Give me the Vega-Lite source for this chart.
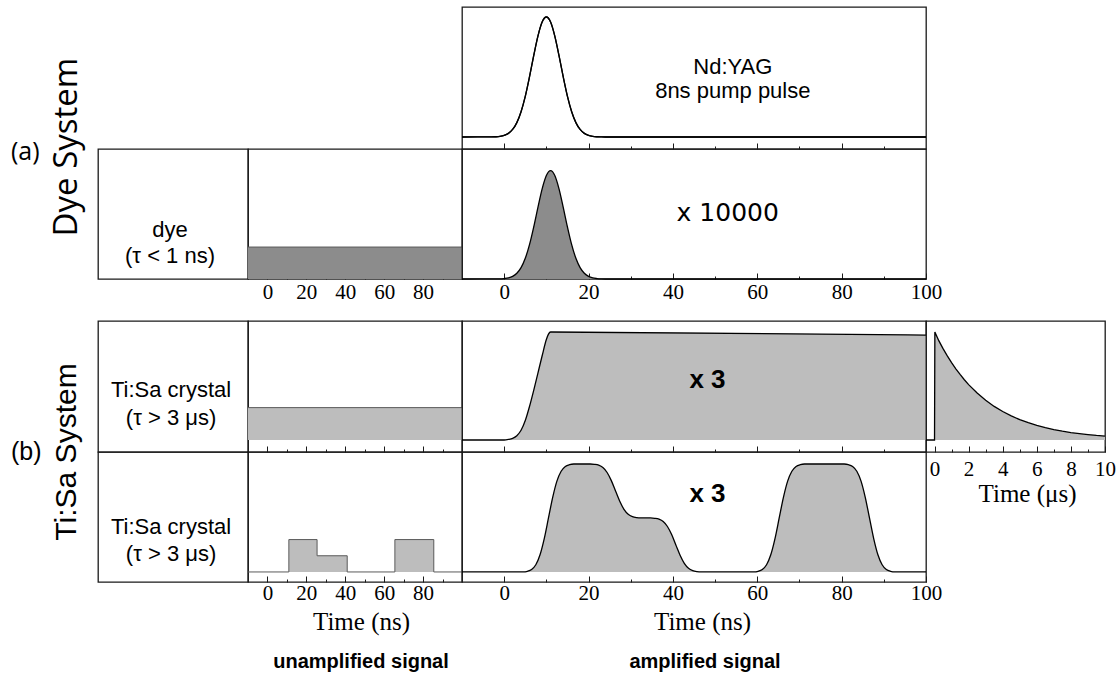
{
  "$schema": "https://vega.github.io/schema/vega-lite/v6.json",
  "background": "white",
  "padding": {"left": 10, "top": 6, "right": 5, "bottom": 4},
  "columns": 4,
  "spacing": 0,
  "bounds": "flush",
  "align": "each",
  "datasets": {
    "ndyag": [
      {"t": -10, "v": 0}, {"t": -3, "v": 0.0007}, {"t": -2, "v": 0.002}, {"t": -1, "v": 0.0053},
      {"t": 0, "v": 0.0132}, {"t": 1, "v": 0.0301}, {"t": 2, "v": 0.0628}, {"t": 3, "v": 0.12},
      {"t": 4, "v": 0.211}, {"t": 5, "v": 0.339}, {"t": 6, "v": 0.501}, {"t": 7, "v": 0.678},
      {"t": 8, "v": 0.841}, {"t": 9, "v": 0.958}, {"t": 10, "v": 1}, {"t": 11, "v": 0.958},
      {"t": 12, "v": 0.841}, {"t": 13, "v": 0.678}, {"t": 14, "v": 0.501}, {"t": 15, "v": 0.339},
      {"t": 16, "v": 0.211}, {"t": 17, "v": 0.12}, {"t": 18, "v": 0.0628}, {"t": 19, "v": 0.0301},
      {"t": 20, "v": 0.0132}, {"t": 21, "v": 0.0053}, {"t": 22, "v": 0.002}, {"t": 23, "v": 0.0007},
      {"t": 24, "v": 0}, {"t": 100, "v": 0}
    ],
    "dyeAmp": [
      {"t": -10, "v": 0}, {"t": -1, "v": 0.001}, {"t": 0, "v": 0.004}, {"t": 1, "v": 0.01},
      {"t": 2, "v": 0.024}, {"t": 3, "v": 0.053}, {"t": 4, "v": 0.105}, {"t": 5, "v": 0.191},
      {"t": 6, "v": 0.317}, {"t": 7, "v": 0.48}, {"t": 8, "v": 0.661}, {"t": 9, "v": 0.832},
      {"t": 10, "v": 0.955}, {"t": 11, "v": 1}, {"t": 12, "v": 0.955}, {"t": 13, "v": 0.832},
      {"t": 14, "v": 0.661}, {"t": 15, "v": 0.48}, {"t": 16, "v": 0.317}, {"t": 17, "v": 0.191},
      {"t": 18, "v": 0.105}, {"t": 19, "v": 0.053}, {"t": 20, "v": 0.024}, {"t": 21, "v": 0.01},
      {"t": 22, "v": 0.004}, {"t": 23, "v": 0.001}, {"t": 24, "v": 0}, {"t": 100, "v": 0}
    ],
    "dyeUnamp": [{"t": -10, "v": 0.295}, {"t": 100, "v": 0.295}],
    "tisaUnamp": [{"t": -10, "v": 0.3}, {"t": 100, "v": 0.3}],
    "tisaAmp": [
      {"t": -10, "v": 0}, {"t": 0, "v": 0}, {"t": 1, "v": 0.005}, {"t": 2, "v": 0.015},
      {"t": 3, "v": 0.04}, {"t": 4, "v": 0.09}, {"t": 5, "v": 0.18}, {"t": 6, "v": 0.31},
      {"t": 7, "v": 0.46}, {"t": 8, "v": 0.62}, {"t": 9, "v": 0.78}, {"t": 10, "v": 0.93},
      {"t": 10.5, "v": 0.98}, {"t": 11, "v": 1}, {"t": 100, "v": 0.972}
    ],
    "tisaDecay": [
      {"t": -0.5, "v": 0}, {"t": 0, "v": 0}, {"t": 0.02, "v": 1}, {"t": 0.25, "v": 0.92},
      {"t": 0.5, "v": 0.846}, {"t": 0.75, "v": 0.779}, {"t": 1, "v": 0.717}, {"t": 1.25, "v": 0.659},
      {"t": 1.5, "v": 0.607}, {"t": 1.75, "v": 0.558}, {"t": 2, "v": 0.513}, {"t": 2.5, "v": 0.435},
      {"t": 3, "v": 0.368}, {"t": 3.5, "v": 0.311}, {"t": 4, "v": 0.264}, {"t": 4.5, "v": 0.223},
      {"t": 5, "v": 0.189}, {"t": 5.5, "v": 0.16}, {"t": 6, "v": 0.135}, {"t": 6.5, "v": 0.115},
      {"t": 7, "v": 0.097}, {"t": 7.5, "v": 0.082}, {"t": 8, "v": 0.069}, {"t": 8.5, "v": 0.059},
      {"t": 9, "v": 0.05}, {"t": 9.5, "v": 0.042}, {"t": 10, "v": 0.036}
    ],
    "pulseUnamp": [
      {"t": -10, "v": 0}, {"t": 11, "v": 0.3}, {"t": 25.5, "v": 0.15}, {"t": 41, "v": 0},
      {"t": 65.5, "v": 0.3}, {"t": 85.5, "v": 0}, {"t": 100, "v": 0}
    ],
    "pulseAmp": [
      {"t": -10, "v": 0}, {"t": 4.5, "v": 0}, {"t": 5.5, "v": 0.006}, {"t": 6.5, "v": 0.023},
      {"t": 7.5, "v": 0.067}, {"t": 8.5, "v": 0.159}, {"t": 9.5, "v": 0.309}, {"t": 10.5, "v": 0.5},
      {"t": 11.5, "v": 0.691}, {"t": 12.5, "v": 0.841}, {"t": 13.5, "v": 0.933}, {"t": 14.5, "v": 0.977},
      {"t": 15.5, "v": 0.994}, {"t": 16.5, "v": 1}, {"t": 20.4, "v": 1}, {"t": 21.4, "v": 0.997},
      {"t": 22.4, "v": 0.989}, {"t": 23.4, "v": 0.967}, {"t": 24.4, "v": 0.921}, {"t": 25.4, "v": 0.846},
      {"t": 26.4, "v": 0.75}, {"t": 27.4, "v": 0.655}, {"t": 28.4, "v": 0.58}, {"t": 29.4, "v": 0.534},
      {"t": 30.4, "v": 0.512}, {"t": 31.4, "v": 0.503}, {"t": 32.4, "v": 0.5}, {"t": 34.7, "v": 0.5},
      {"t": 35.7, "v": 0.497}, {"t": 36.7, "v": 0.489}, {"t": 37.7, "v": 0.467}, {"t": 38.7, "v": 0.421},
      {"t": 39.7, "v": 0.346}, {"t": 40.7, "v": 0.25}, {"t": 41.7, "v": 0.155}, {"t": 42.7, "v": 0.08},
      {"t": 43.7, "v": 0.034}, {"t": 44.7, "v": 0.012}, {"t": 45.7, "v": 0.003}, {"t": 46.7, "v": 0},
      {"t": 59.2, "v": 0}, {"t": 60.2, "v": 0.006}, {"t": 61.2, "v": 0.023}, {"t": 62.2, "v": 0.067},
      {"t": 63.2, "v": 0.159}, {"t": 64.2, "v": 0.309}, {"t": 65.2, "v": 0.5}, {"t": 66.2, "v": 0.691},
      {"t": 67.2, "v": 0.841}, {"t": 68.2, "v": 0.933}, {"t": 69.2, "v": 0.977}, {"t": 70.2, "v": 0.994},
      {"t": 71.2, "v": 1}, {"t": 80.6, "v": 1}, {"t": 81.6, "v": 0.994}, {"t": 82.6, "v": 0.977},
      {"t": 83.6, "v": 0.933}, {"t": 84.6, "v": 0.841}, {"t": 85.6, "v": 0.691}, {"t": 86.6, "v": 0.5},
      {"t": 87.6, "v": 0.309}, {"t": 88.6, "v": 0.159}, {"t": 89.6, "v": 0.067}, {"t": 90.6, "v": 0.023},
      {"t": 91.6, "v": 0.006}, {"t": 92.6, "v": 0}, {"t": 100, "v": 0}
    ]
  },
  "concat": [
    {"width": 1, "height": 1, "view": {"stroke": null}, "data": {"values": []}, "mark": "point"},
    {"width": 1, "height": 1, "view": {"stroke": null}, "data": {"values": []}, "mark": "point"},
    {
      "width": 464, "height": 142,
      "data": {"name": "ndyag"},
      "resolve": {"axis": {"x": "independent"}},
      "layer": [
        {
          "mark": {"type": "line", "color": "#000", "strokeWidth": 1.3, "interpolate": "monotone"},
          "encoding": {
            "x": {"field": "t", "type": "quantitative", "scale": {"domain": [-10, 100], "nice": false, "zero": false},
              "axis": {"orient": "bottom", "values": [0, 20, 40, 60, 80], "labels": false, "title": null, "tickSize": -6}},
            "y": {"field": "v", "type": "quantitative", "scale": {"domain": [-0.1, 1.0833], "nice": false, "zero": false}, "axis": null}
          }
        },
        {
          "mark": {"type": "line", "color": "#000", "strokeWidth": 1.3, "interpolate": "monotone"},
          "encoding": {
            "x": {"field": "t", "type": "quantitative",
              "axis": {"orient": "bottom", "values": [10, 30, 50, 70, 90], "labels": false, "title": null, "tickSize": -3}},
            "y": {"field": "v", "type": "quantitative"}
          }
        },
        {
          "data": {"values": [{"label": "Nd:YAG\n8ns pump pulse"}]},
          "mark": {"type": "text", "fontSize": 22, "lineBreak": "\n", "lineHeight": 24, "baseline": "middle"},
          "encoding": {"text": {"field": "label"}, "x": {"datum": 54.2, "axis": null}, "y": {"datum": 0.586}}
        }
      ]
    },
    {"width": 1, "height": 1, "view": {"stroke": null}, "data": {"values": []}, "mark": "point"},

    {
      "width": 150, "height": 130,
      "layer": [
        {
          "data": {"values": [{"label": "dye\n(τ < 1 ns)"}]},
          "mark": {"type": "text", "fontSize": 22, "lineBreak": "\n", "lineHeight": 26, "baseline": "middle"},
          "encoding": {
            "text": {"field": "label"},
            "x": {"datum": 0.48, "type": "quantitative", "scale": {"domain": [0, 1]}, "axis": null},
            "y": {"datum": 0.375, "type": "quantitative", "scale": {"domain": [0, 1]}, "axis": null}
          }
        },
        {
          "data": {"values": [{"label": "Dye System"}]},
          "mark": {"type": "text", "font": "Open Sans", "fontSize": 33, "angle": 270, "baseline": "middle"},
          "encoding": {"text": {"field": "label"}, "x": {"datum": -0.207}, "y": {"datum": 1.015}}
        },
        {
          "data": {"values": [{"label": "(a)"}]},
          "mark": {"type": "text", "font": "Open Sans", "fontSize": 25, "align": "left", "baseline": "middle"},
          "encoding": {"text": {"field": "label"}, "x": {"datum": -0.58}, "y": {"datum": 0.977}}
        }
      ]
    },
    {
      "width": 214, "height": 130,
      "data": {"name": "dyeUnamp"},
      "resolve": {"axis": {"x": "independent"}},
      "layer": [
        {
          "mark": {"type": "area", "color": "#8c8c8c"},
          "encoding": {
            "x": {"field": "t", "type": "quantitative", "scale": {"domain": [-10, 100], "nice": false, "zero": false},
              "axis": {"orient": "bottom", "values": [0, 20, 40, 60, 80], "title": null, "tickSize": -6, "labelPadding": 8}},
            "y": {"field": "v", "type": "quantitative", "scale": {"domain": [0, 1.2], "nice": false, "zero": false}, "axis": null},
            "y2": {"datum": 0}
          }
        },
        {
          "mark": {"type": "line", "color": "#5a5a5a", "strokeWidth": 1},
          "encoding": {
            "x": {"field": "t", "type": "quantitative",
              "axis": {"orient": "bottom", "values": [10, 30, 50, 70, 90], "labels": false, "title": null, "tickSize": -3}},
            "y": {"field": "v", "type": "quantitative"}
          }
        }
      ]
    },
    {
      "width": 464, "height": 130,
      "data": {"name": "dyeAmp"},
      "resolve": {"axis": {"x": "independent"}},
      "layer": [
        {
          "mark": {"type": "area", "color": "#8c8c8c", "interpolate": "monotone"},
          "encoding": {
            "x": {"field": "t", "type": "quantitative", "scale": {"domain": [-10, 100], "nice": false, "zero": false},
              "axis": {"orient": "bottom", "values": [0, 20, 40, 60, 80, 100], "title": null, "tickSize": -6, "labelPadding": 8}},
            "y": {"field": "v", "type": "quantitative", "scale": {"domain": [0, 1.2], "nice": false, "zero": false}, "axis": null},
            "y2": {"datum": 0}
          }
        },
        {
          "mark": {"type": "line", "color": "#000", "strokeWidth": 1.3, "interpolate": "monotone"},
          "encoding": {
            "x": {"field": "t", "type": "quantitative",
              "axis": {"orient": "bottom", "values": [10, 30, 50, 70, 90], "labels": false, "title": null, "tickSize": -3}},
            "y": {"field": "v", "type": "quantitative"}
          }
        },
        {
          "data": {"values": [{"label": "x 10000"}]},
          "mark": {"type": "text", "font": "DejaVu Sans", "fontSize": 25, "baseline": "middle"},
          "encoding": {"text": {"field": "label"}, "x": {"datum": 53, "axis": null}, "y": {"datum": 0.606}}
        }
      ]
    },
    {"width": 1, "height": 1, "view": {"stroke": null}, "data": {"values": []}, "mark": "point"},

    {"width": 1, "height": 42, "view": {"stroke": null}, "data": {"values": []}, "mark": "point"},
    {"width": 1, "height": 42, "view": {"stroke": null}, "data": {"values": []}, "mark": "point"},
    {"width": 1, "height": 42, "view": {"stroke": null}, "data": {"values": []}, "mark": "point"},
    {"width": 1, "height": 42, "view": {"stroke": null}, "data": {"values": []}, "mark": "point"},

    {
      "width": 150, "height": 131,
      "layer": [
        {
          "data": {"values": [{"label": "Ti:Sa crystal\n(τ > 3 μs)"}]},
          "mark": {"type": "text", "fontSize": 22, "lineBreak": "\n", "lineHeight": 28, "baseline": "middle"},
          "encoding": {
            "text": {"field": "label"},
            "x": {"datum": 0.487, "type": "quantitative", "scale": {"domain": [0, 1]}, "axis": null},
            "y": {"datum": 0.471, "type": "quantitative", "scale": {"domain": [0, 1]}, "axis": null}
          }
        },
        {
          "data": {"values": [{"label": "Ti:Sa System"}]},
          "mark": {"type": "text", "fontSize": 30, "angle": 270, "baseline": "middle"},
          "encoding": {"text": {"field": "label"}, "x": {"datum": -0.207}, "y": {"datum": 0}}
        },
        {
          "data": {"values": [{"label": "(b)"}]},
          "mark": {"type": "text", "fontSize": 25, "align": "left", "baseline": "middle"},
          "encoding": {"text": {"field": "label"}, "x": {"datum": -0.58}, "y": {"datum": 0}}
        }
      ]
    },
    {
      "width": 214, "height": 131,
      "data": {"name": "tisaUnamp"},
      "resolve": {"axis": {"x": "independent"}},
      "layer": [
        {
          "mark": {"type": "area", "color": "#bdbdbd"},
          "encoding": {
            "x": {"field": "t", "type": "quantitative", "scale": {"domain": [-10, 100], "nice": false, "zero": false},
              "axis": {"orient": "bottom", "values": [0, 20, 40, 60, 80], "labels": false, "title": null, "tickSize": -6}},
            "y": {"field": "v", "type": "quantitative", "scale": {"domain": [-0.111, 1.102], "nice": false, "zero": false}, "axis": null},
            "y2": {"datum": 0}
          }
        },
        {
          "mark": {"type": "line", "color": "#5a5a5a", "strokeWidth": 1},
          "encoding": {
            "x": {"field": "t", "type": "quantitative",
              "axis": {"orient": "bottom", "values": [10, 30, 50, 70, 90], "labels": false, "title": null, "tickSize": -3}},
            "y": {"field": "v", "type": "quantitative"}
          }
        }
      ]
    },
    {
      "width": 464, "height": 131,
      "data": {"name": "tisaAmp"},
      "resolve": {"axis": {"x": "independent"}},
      "layer": [
        {
          "mark": {"type": "area", "color": "#bdbdbd", "interpolate": "monotone"},
          "encoding": {
            "x": {"field": "t", "type": "quantitative", "scale": {"domain": [-10, 100], "nice": false, "zero": false},
              "axis": {"orient": "bottom", "values": [0, 20, 40, 60, 80], "labels": false, "title": null, "tickSize": -6}},
            "y": {"field": "v", "type": "quantitative", "scale": {"domain": [-0.111, 1.102], "nice": false, "zero": false}, "axis": null},
            "y2": {"datum": 0}
          }
        },
        {
          "mark": {"type": "line", "color": "#000", "strokeWidth": 1.3, "interpolate": "monotone"},
          "encoding": {
            "x": {"field": "t", "type": "quantitative",
              "axis": {"orient": "bottom", "values": [10, 30, 50, 70, 90], "labels": false, "title": null, "tickSize": -3}},
            "y": {"field": "v", "type": "quantitative"}
          }
        },
        {
          "data": {"values": [{"label": "x 3"}]},
          "mark": {"type": "text", "fontSize": 26, "fontWeight": "bold", "baseline": "middle"},
          "encoding": {"text": {"field": "label"}, "x": {"datum": 48.2, "axis": null}, "y": {"datum": 0.558}}
        }
      ]
    },
    {
      "width": 179, "height": 131,
      "data": {"name": "tisaDecay"},
      "resolve": {"axis": {"x": "independent"}},
      "layer": [
        {
          "mark": {"type": "area", "color": "#bdbdbd"},
          "encoding": {
            "x": {"field": "t", "type": "quantitative", "scale": {"domain": [-0.5, 10], "nice": false, "zero": false},
              "axis": {"orient": "bottom", "values": [0, 2, 4, 6, 8, 10], "title": "Time (μs)", "tickSize": -6,
                "labelPadding": 12, "titlePadding": 2, "titleX": 101}},
            "y": {"field": "v", "type": "quantitative", "scale": {"domain": [-0.111, 1.102], "nice": false, "zero": false}, "axis": null},
            "y2": {"datum": 0}
          }
        },
        {
          "mark": {"type": "line", "color": "#000", "strokeWidth": 1.3},
          "encoding": {
            "x": {"field": "t", "type": "quantitative",
              "axis": {"orient": "bottom", "values": [1, 3, 5, 7, 9], "labels": false, "title": null, "tickSize": -3}},
            "y": {"field": "v", "type": "quantitative"}
          }
        }
      ]
    },

    {
      "width": 150, "height": 130,
      "layer": [
        {
          "data": {"values": [{"label": "Ti:Sa crystal\n(τ > 3 μs)"}]},
          "mark": {"type": "text", "fontSize": 22, "lineBreak": "\n", "lineHeight": 27, "baseline": "middle"},
          "encoding": {
            "text": {"field": "label"},
            "x": {"datum": 0.487, "type": "quantitative", "scale": {"domain": [0, 1]}, "axis": null},
            "y": {"datum": 0.421, "type": "quantitative", "scale": {"domain": [0, 1]}, "axis": null}
          }
        }
      ]
    },
    {
      "width": 214, "height": 130,
      "data": {"name": "pulseUnamp"},
      "resolve": {"axis": {"x": "independent"}},
      "title": {"text": "unamplified signal", "orient": "bottom", "font": "Liberation Sans", "fontSize": 20, "fontWeight": "bold", "color": "#000", "offset": 18, "dx": 6},
      "layer": [
        {
          "mark": {"type": "area", "color": "#bdbdbd", "interpolate": "step-after"},
          "encoding": {
            "x": {"field": "t", "type": "quantitative", "scale": {"domain": [-10, 100], "nice": false, "zero": false},
              "axis": {"orient": "bottom", "values": [0, 20, 40, 60, 80], "title": "Time (ns)", "tickSize": -6,
                "labelPadding": 6, "titlePadding": 6, "titleX": 113}},
            "y": {"field": "v", "type": "quantitative", "scale": {"domain": [-0.093, 1.111], "nice": false, "zero": false}, "axis": null},
            "y2": {"datum": 0}
          }
        },
        {
          "mark": {"type": "line", "color": "#5a5a5a", "strokeWidth": 1, "interpolate": "step-after"},
          "encoding": {
            "x": {"field": "t", "type": "quantitative",
              "axis": {"orient": "bottom", "values": [10, 30, 50, 70, 90], "labels": false, "title": null, "tickSize": -3}},
            "y": {"field": "v", "type": "quantitative"}
          }
        }
      ]
    },
    {
      "width": 464, "height": 130,
      "data": {"name": "pulseAmp"},
      "resolve": {"axis": {"x": "independent"}},
      "title": {"text": "amplified signal", "orient": "bottom", "font": "Liberation Sans", "fontSize": 20, "fontWeight": "bold", "color": "#000", "offset": 18, "dx": 11},
      "layer": [
        {
          "mark": {"type": "area", "color": "#bdbdbd", "interpolate": "monotone"},
          "encoding": {
            "x": {"field": "t", "type": "quantitative", "scale": {"domain": [-10, 100], "nice": false, "zero": false},
              "axis": {"orient": "bottom", "values": [0, 20, 40, 60, 80, 100], "title": "Time (ns)", "tickSize": -6,
                "labelPadding": 6, "titlePadding": 6, "titleX": 240}},
            "y": {"field": "v", "type": "quantitative", "scale": {"domain": [-0.093, 1.111], "nice": false, "zero": false}, "axis": null},
            "y2": {"datum": 0}
          }
        },
        {
          "mark": {"type": "line", "color": "#000", "strokeWidth": 1.3, "interpolate": "monotone"},
          "encoding": {
            "x": {"field": "t", "type": "quantitative",
              "axis": {"orient": "bottom", "values": [10, 30, 50, 70, 90], "labels": false, "title": null, "tickSize": -3}},
            "y": {"field": "v", "type": "quantitative"}
          }
        },
        {
          "data": {"values": [{"label": "x 3"}]},
          "mark": {"type": "text", "fontSize": 26, "fontWeight": "bold", "baseline": "middle"},
          "encoding": {"text": {"field": "label"}, "x": {"datum": 48.2, "axis": null}, "y": {"datum": 0.725}}
        }
      ]
    },
    {"width": 1, "height": 1, "view": {"stroke": null}, "data": {"values": []}, "mark": "point"}
  ],
  "config": {
    "view": {"stroke": "#1a1a1a", "strokeWidth": 1.3},
    "axis": {
      "domain": false, "grid": false, "ticks": true, "tickColor": "#1a1a1a", "tickWidth": 1, "zindex": 2,
      "labelFont": "Liberation Serif", "labelFontSize": 21, "labelColor": "#000", "labelPadding": 8,
      "labelFlush": false, "labelOverlap": false, "labelBound": false,
      "titleFont": "Liberation Serif", "titleFontSize": 25, "titleFontWeight": "normal", "titleColor": "#000", "titlePadding": 6
    },
    "text": {"font": "Liberation Sans", "color": "#000"}
  }
}
